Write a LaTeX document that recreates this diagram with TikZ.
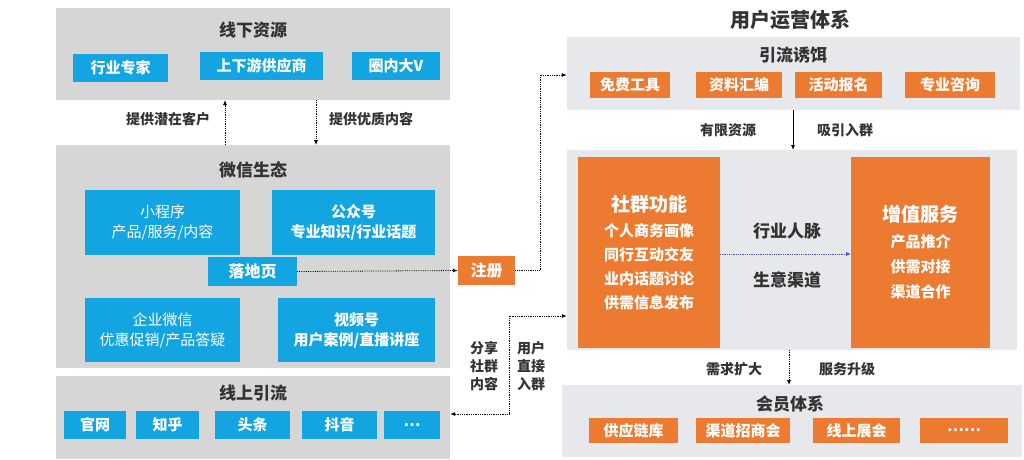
\documentclass[tikz,border=0pt]{standalone}
\usepackage{fontspec}
\setmainfont{Noto Sans CJK SC}
\usetikzlibrary{arrows.meta}
\definecolor{gbox}{HTML}{D6D6D6}
\definecolor{lbox}{HTML}{E6E8EC}
\definecolor{bl}{HTML}{12A5E2}
\definecolor{org}{HTML}{EC7A30}
\definecolor{tx}{HTML}{333333}
\newcommand{\mybox}[7]{\node[#6, minimum width={(#4-#2)*1pt}, minimum height={(#5-#3)*1pt}] (#1) at ({(#2+#4)/2},{(#3+#5)/2}) {#7};}
\tikzset{
  base/.style={inner sep=0pt, align=center, font=\bfseries},
  grp/.style={base, fill=gbox},
  lgrp/.style={base, fill=lbox},
  blue/.style={base, fill=bl, text=white, font=\bfseries\fontsize{15}{20}\selectfont},
  orng/.style={base, fill=org, text=white, font=\bfseries\fontsize{15}{20}\selectfont},
  ttl/.style={text=tx, font=\bfseries\fontsize{17}{19}\selectfont},
  lbl/.style={text=tx, font=\bfseries\fontsize{14}{18}\selectfont, align=center, inner sep=0pt},
  dot/.style={densely dotted, thick, -{Latex[length=5pt,width=4pt]}},
}
\begin{document}
\begin{tikzpicture}[x=1pt,y=-1pt]
\useasboundingbox (0,0) rectangle (1024,459);
% left column
\mybox{off}{56}{8}{450}{100}{grp}{}
\node[ttl] at (253,30) {线下资源};
\mybox{a1}{73}{54}{168}{82}{blue}{行业专家}
\mybox{a2}{200}{52}{323}{80}{blue}{上下游供应商}
\mybox{a3}{352}{52}{440}{80}{blue}{圈内大V}
\mybox{wx}{56}{145}{450}{368}{grp}{}
\node[ttl] at (253,170) {微信生态};
\mybox{b1}{85}{190}{240}{255}{blue}{\mdseries 小程序\\\mdseries 产品/服务/内容}
\mybox{b2}{272}{190}{435}{255}{blue}{公众号\\专业知识/行业话题}
\mybox{ldy}{208}{257}{297}{286}{blue}{\fontsize{16}{20}\selectfont 落地页}
\mybox{b3}{85}{298}{240}{362}{blue}{\mdseries 企业微信\\\mdseries 优惠促销/产品答疑}
\mybox{b4}{278}{298}{435}{362}{blue}{视频号\\用户案例/直播讲座}
\mybox{on}{56}{376}{450}{459}{grp}{}
\node[ttl] at (253,393) {线上引流};
\mybox{c1}{64}{411}{126}{439}{blue}{官网}
\mybox{c2}{136}{411}{199}{439}{blue}{知乎}
\mybox{c3}{215}{411}{290}{439}{blue}{头条}
\mybox{c4}{302}{411}{377}{439}{blue}{抖音}
\mybox{c5}{384}{411}{440}{439}{blue}{…}
\coordinate (u1) at (225,145); \coordinate (u2) at (225,100);
\coordinate (d1) at (316,100); \coordinate (d2) at (316,145);
\draw[dot] (u1) -- (u2);
\draw[dot] (d1) -- (d2);
\node[lbl] at (168,119) {提供潜在客户};
\node[lbl] at (371,119) {提供优质内容};
% register
\mybox{reg}{458}{256}{515}{285}{orng}{\fontsize{16}{20}\selectfont 注册}
\draw[dot] (ldy.east) -- (reg.west);
% right
\node[text=tx, font=\bfseries\fontsize{20}{24}\selectfont] at (790,20) {用户运营体系};
\mybox{yl}{567}{37}{1020}{110}{lgrp}{}
\node[ttl] at (793,55) {引流诱饵};
\mybox{e1}{590}{72}{670}{98}{orng}{免费工具}
\mybox{e2}{696}{72}{782}{98}{orng}{资料汇编}
\mybox{e3}{795}{72}{882}{98}{orng}{活动报名}
\mybox{e4}{905}{72}{995}{98}{orng}{专业咨询}
\draw[dot] (reg.east) -| (540,75) -- (yl.west |- 0,75);
\mybox{big}{567}{150}{1017}{350}{lgrp}{}
\draw[thick, -{Latex[length=5pt,width=4pt]}] (793,110) -- (793,150);
\node[lbl] at (728,130) {有限资源};
\node[lbl] at (845,130) {吸引入群};
\mybox{sq}{578}{157}{720}{348}{orng}{{\fontsize{19}{23}\selectfont 社群功能}\\[5pt]个人商务画像\\[4pt]同行互动交友\\[4pt]业内话题讨论\\[4pt]供需信息发布}
\mybox{zz}{851}{157}{990}{348}{orng}{{\fontsize{19}{23}\selectfont 增值服务}\\[6pt]产品推介\\[5pt]供需对接\\[5pt]渠道合作}
\node[text=tx, font=\bfseries\fontsize{17}{19}\selectfont] at (787,231) {行业人脉};
\node[text=tx, font=\bfseries\fontsize{17}{19}\selectfont] at (787,280) {生意渠道};
\draw[densely dotted, thick, blue!60!black!70, -{Latex[length=5pt,width=4pt]}] (720,254) -- (851,254);
\mybox{hy}{562}{385}{1022}{457}{lgrp}{}
\node[ttl] at (790,404) {会员体系};
\mybox{f1}{589}{418}{678}{443}{orng}{供应链库}
\mybox{f2}{696}{418}{790}{443}{orng}{渠道招商会}
\mybox{f3}{813}{418}{900}{443}{orng}{线上展会}
\mybox{f4}{920}{418}{1008}{443}{orng}{……}
\draw[dot] (789,350) -- (789,385);
\node[lbl] at (734,369) {需求扩大};
\node[lbl] at (847,369) {服务升级};
% bottom-left link
\draw[densely dotted, thick, {Latex[length=5pt,width=4pt]}-{Latex[length=5pt,width=4pt]}] (on.east |- 0,414) -| (509,316) -- (big.west |- 0,316);
\node[lbl] at (484,366) {分享\\社群\\内容};
\node[lbl] at (531,366) {用户\\直接\\入群};
\end{tikzpicture}
\end{document}
